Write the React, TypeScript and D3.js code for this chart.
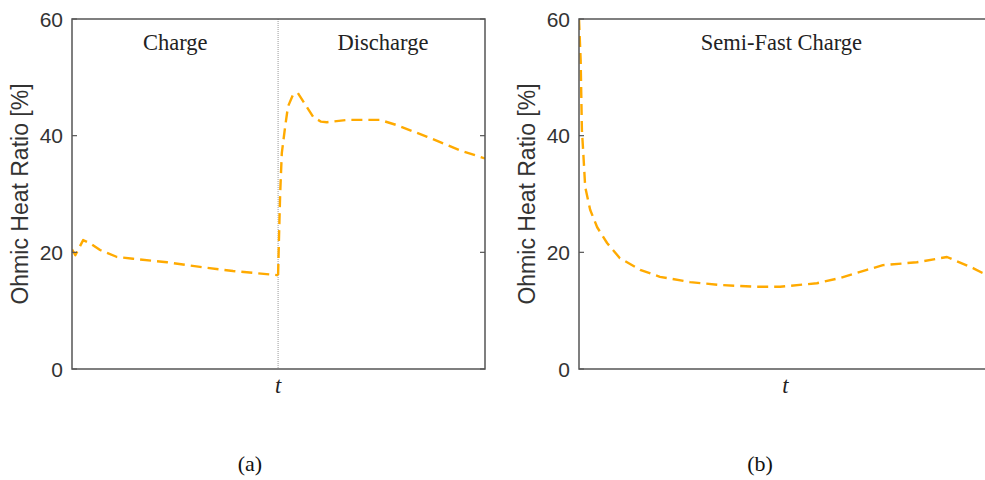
import React from "react";
import * as d3 from "d3";

// Panel (a): Charge then Discharge, t normalized 0..1 (switch at 0.5)
const chargeT = [0, 0.008, 0.027, 0.045, 0.068, 0.109, 0.148, 0.23, 0.31, 0.39, 0.496, 0.499];
const chargeV = [20.5, 19.5, 22.1, 21.5, 20.4, 19.2, 18.9, 18.3, 17.5, 16.8, 16.1, 16.1];
const dischargeT = [0.499, 0.501, 0.504, 0.508, 0.516, 0.523, 0.535, 0.547, 0.584, 0.603, 0.617, 0.666, 0.746, 0.787, 0.86, 0.939, 1.0];
const dischargeV = [16.1, 22, 30, 37, 41.5, 45, 47, 47.3, 43.2, 42.4, 42.3, 42.7, 42.7, 41.8, 39.8, 37.5, 36.1];

// Panel (b): Semi-Fast Charge
const semiT = [0, 0.004, 0.007, 0.01, 0.015, 0.027, 0.044, 0.068, 0.099, 0.148, 0.196, 0.269, 0.341, 0.426, 0.487, 0.576, 0.632, 0.697, 0.736, 0.818, 0.891, 0.954, 0.976, 1.0];
const semiV = [60, 53, 41, 37.5, 31.2, 27.3, 24.3, 21.6, 19, 17, 15.8, 14.9, 14.4, 14.1, 14.1, 14.7, 15.6, 17, 17.8, 18.3, 19.2, 17.3, 16.5, 15.8];

const yTicks = [0, 20, 40, 60];
const yLabel = "Ohmic Heat Ratio [%]";
const panelLabels = ["(a)", "(b)"];

const ORANGE = "#FFAA00";
const AXIS = "#555";
const SANS = "'Liberation Sans', Arial, Helvetica, sans-serif";
const SERIF = "'Liberation Serif', 'Times New Roman', serif";

type Pt = [number, number];

function zip(t: number[], v: number[]): Pt[] {
  return t.map((d, i) => [d, v[i]] as Pt);
}

function Panel({ x0, id, label, series, titles, divider, labelX }: any) {
  const w = 413;
  const top = 19;
  const bottom = 369;
  const x = d3.scaleLinear().domain([0, 1]).range([x0, x0 + w]);
  const y = d3.scaleLinear().domain([0, 60]).range([bottom, top]);
  const line = d3
    .line<Pt>()
    .x((d) => x(d[0]))
    .y((d) => y(d[1]))
    .curve(d3.curveLinear);
  return (
    <g>
      <defs>
        <clipPath id={id}>
          <rect x={x0} y={top - 2} width={w} height={bottom - top + 4} />
        </clipPath>
      </defs>
      {divider !== undefined && (
        <line
          x1={x(divider)}
          x2={x(divider)}
          y1={top}
          y2={bottom}
          stroke="#999"
          strokeWidth={1}
          strokeDasharray="1,1"
        />
      )}
      <g clipPath={`url(#${id})`}>
        {series.map((s: Pt[], i: number) => (
          <path
            key={i}
            d={line(s) || ""}
            fill="none"
            stroke={ORANGE}
            strokeWidth={2.4}
            strokeDasharray="11,6"
            strokeLinejoin="round"
          />
        ))}
      </g>
      <rect x={x0} y={top} width={w} height={bottom - top} fill="none" stroke={AXIS} strokeWidth={1.5} />
      {yTicks.map((t) => (
        <g key={t}>
          <line x1={x0} x2={x0 + 5} y1={y(t)} y2={y(t)} stroke={AXIS} strokeWidth={1.2} />
          <line x1={x0 + w} x2={x0 + w - 5} y1={y(t)} y2={y(t)} stroke={AXIS} strokeWidth={1.2} />
          <text
            x={x0 - 9}
            y={y(t)}
            dy="0.36em"
            textAnchor="end"
            fontFamily={SANS}
            fontSize={21}
            fill="#333"
          >
            {t}
          </text>
        </g>
      ))}
      <text
        transform={`translate(${x0 - 44},${(top + bottom) / 2}) rotate(-90)`}
        textAnchor="middle"
        fontFamily={SANS}
        fontSize={23}
        fill="#333"
      >
        {yLabel}
      </text>
      {titles.map((tt: any, i: number) => (
        <text
          key={i}
          x={x(tt.at)}
          y={50}
          textAnchor="middle"
          fontFamily={SERIF}
          fontSize={22.5}
          fill="#222"
        >
          {tt.text}
        </text>
      ))}
      <text
        x={x(divider !== undefined ? divider : 0.5)}
        y={393}
        textAnchor="middle"
        fontFamily={SERIF}
        fontStyle="italic"
        fontSize={22.5}
        fill="#222"
      >
        t
      </text>
      <text
        x={labelX}
        y={471}
        textAnchor="middle"
        fontFamily={SERIF}
        fontSize={22}
        fill="#111"
      >
        {label}
      </text>
    </g>
  );
}

export default function App() {
  return (
    <svg
      width={985}
      height={480}
      style={{ position: "absolute", left: 0, top: 0, background: "#fff" }}
    >
      <rect width={985} height={480} fill="#fff" />
      <Panel
        x0={72}
        id="clipA"
        label={panelLabels[0]}
        labelX={250}
        divider={0.499}
        series={[zip(chargeT, chargeV), zip(dischargeT, dischargeV)]}
        titles={[
          { text: "Charge", at: 0.25 },
          { text: "Discharge", at: 0.753 },
        ]}
      />
      <Panel
        x0={579}
        id="clipB"
        label={panelLabels[1]}
        labelX={760}
        series={[zip(semiT, semiV)]}
        titles={[{ text: "Semi-Fast Charge", at: 0.49 }]}
      />
    </svg>
  );
}
